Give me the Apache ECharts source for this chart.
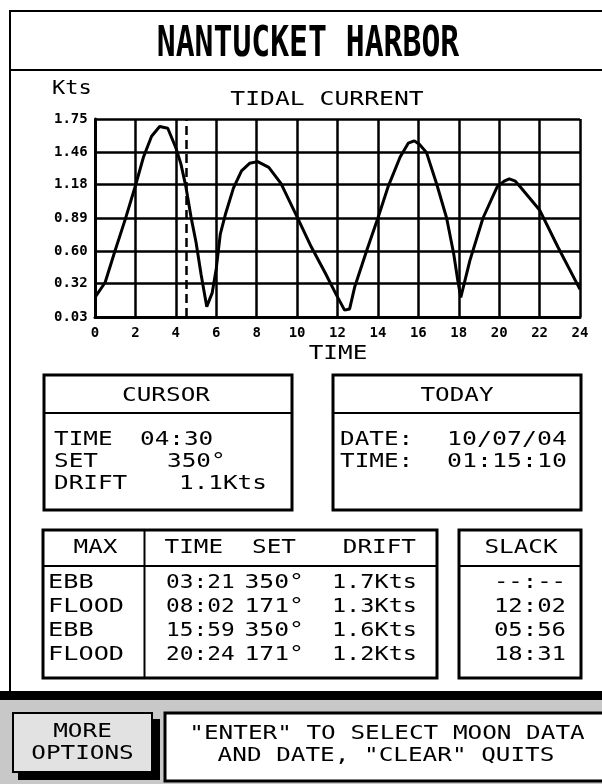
<!DOCTYPE html>
<html><head><meta charset="utf-8">
<script src="https://cdn.jsdelivr.net/npm/echarts@6/dist/echarts.min.js"></script>
<style>html,body{margin:0;padding:0;background:#fff}#chart{width:602px;height:784px}</style>
</head><body><div id="chart"></div>
<script>
// Tidal current speed (knots) over the day (hours)
const hours = [0, 0.5, 1.0, 1.5, 2.0, 2.4, 2.8, 3.2, 3.6, 4.0, 4.25, 4.5, 4.75, 5.0, 5.25, 5.53, 5.8, 6.0, 6.2, 6.45, 6.85, 7.25, 7.65, 8.05, 8.6, 9.2, 10.0, 10.7, 11.4, 11.95, 12.35, 12.6, 12.85, 13.45, 14.0, 14.5, 15.1, 15.5, 15.8, 16.05, 16.4, 16.9, 17.4, 17.75, 17.95, 18.1, 18.55, 19.2, 19.9, 20.25, 20.5, 20.8, 21.05, 22.0, 22.9, 24.0];
const knots = [0.20, 0.33, 0.61, 0.88, 1.17, 1.42, 1.60, 1.685, 1.67, 1.50, 1.36, 1.16, 0.90, 0.68, 0.40, 0.12, 0.24, 0.45, 0.75, 0.92, 1.15, 1.30, 1.365, 1.38, 1.33, 1.19, 0.90, 0.64, 0.41, 0.22, 0.09, 0.10, 0.29, 0.61, 0.89, 1.16, 1.42, 1.54, 1.56, 1.53, 1.46, 1.19, 0.89, 0.58, 0.35, 0.20, 0.52, 0.89, 1.16, 1.21, 1.23, 1.21, 1.16, 0.96, 0.64, 0.27];
const yTicks = [0.03, 0.32, 0.60, 0.89, 1.18, 1.46, 1.75];
const cursorHour = [4.5];

const cursorRows = [['TIME', '04:30'], ['SET', '350°'], ['DRIFT', '1.1Kts']];
const todayRows = [['DATE:', '10/07/04'], ['TIME:', '01:15:10']];
const maxHeads = ['MAX', 'TIME', 'SET', 'DRIFT'];
const maxKinds = ['EBB', 'FLOOD', 'EBB', 'FLOOD'];
const maxTimes = ['03:21', '08:02', '15:59', '20:24'];
const maxSets = ['350°', '171°', '350°', '171°'];
const maxDrifts = ['1.7Kts', '1.3Kts', '1.6Kts', '1.2Kts'];
const slackTimes = ['--:--', '12:02', '05:56', '18:31'];

const MONO = '"DejaVu Sans Mono", monospace';

function txt(x, y, s, o) {
  o = o || {};
  const align = o.align || 'left';
  return {
    type: 'text', x: x, y: y, scaleX: o.sx != null ? o.sx : 1.28, silent: true, z: 20,
    style: {
      text: s, x: 0, y: 0, fill: '#000',
      font: (o.bold ? 'bold ' : '') + (o.size || 19) + 'px ' + MONO,
      textAlign: align, align: align, textVerticalAlign: 'middle', verticalAlign: 'middle'
    }
  };
}
function rect(x, y, w, h, fill, stroke, lw, z) {
  return { type: 'rect', silent: true, z: z != null ? z : 5, shape: { x: x, y: y, width: w, height: h },
    style: { fill: fill || 'none', stroke: stroke || null, lineWidth: lw || 0 } };
}
function line(x1, y1, x2, y2, lw) {
  return { type: 'line', silent: true, z: 6, shape: { x1: x1, y1: y1, x2: x2, y2: y2 },
    style: { stroke: '#000', lineWidth: lw || 2 } };
}

const g = [];
// panel frame and title
g.push(rect(10, 11, 600, 685, 'none', '#000', 2));
g.push(line(10, 70, 602, 70, 2));
g.push(txt(308, 45, 'NANTUCKET HARBOR', { bold: true, size: 43, sx: 0.73, align: 'center' }));
g.push(txt(52, 89, 'Kts', { sx: 1.1, size: 20 }));
g.push(txt(327, 100, 'TIDAL CURRENT', { align: 'center', sx: 1.3 }));
g.push(txt(338, 354, 'TIME', { align: 'center' }));

// cursor box
g.push(rect(44, 375, 248, 135, 'none', '#000', 3));
g.push(line(44, 413, 292, 413, 2));
g.push(txt(166, 396, 'CURSOR', { align: 'center' }));
const cursorValX = [140, 167, 179];
cursorRows.forEach(function (r, i) {
  g.push(txt(54, 440 + i * 22, r[0]));
  g.push(txt(cursorValX[i], 440 + i * 22, r[1]));
});

// today box
g.push(rect(333, 375, 248, 135, 'none', '#000', 3));
g.push(line(333, 413, 581, 413, 2));
g.push(txt(457, 396, 'TODAY', { align: 'center' }));
todayRows.forEach(function (r, i) {
  g.push(txt(340, 440 + i * 22, r[0]));
  g.push(txt(447, 440 + i * 22, r[1], { sx: 1.31 }));
});

// max current table
g.push(rect(43, 530, 394, 148, 'none', '#000', 3));
g.push(line(144.5, 530, 144.5, 678, 2));
g.push(line(43, 566, 437, 566, 2));
g.push(txt(95.5, 548, maxHeads[0], { align: 'center' }));
g.push(txt(164.5, 548, maxHeads[1]));
g.push(txt(252, 548, maxHeads[2]));
g.push(txt(416, 548, maxHeads[3], { align: 'right' }));
maxKinds.forEach(function (k, i) {
  const y = 583 + i * 24;
  g.push(txt(48, y, k, { sx: 1.33 }));
  g.push(txt(166, y, maxTimes[i], { sx: 1.2 }));
  g.push(txt(244.5, y, maxSets[i], { sx: 1.3 }));
  g.push(txt(417, y, maxDrifts[i], { align: 'right', sx: 1.24 }));
});

// slack box
g.push(rect(459, 530, 122, 148, 'none', '#000', 3));
g.push(line(459, 566, 581, 566, 2));
g.push(txt(521, 548, 'SLACK', { align: 'center' }));
slackTimes.forEach(function (s, i) {
  g.push(txt(566, 583 + i * 24, s, { align: 'right', sx: 1.26 }));
});

// footer bar and buttons
g.push(rect(0, 691, 602, 9, '#000'));
g.push(rect(0, 700, 602, 84, '#c8c8c8'));
g.push(rect(18, 719, 142, 61, '#000'));
g.push(rect(13, 713, 139, 59, '#e2e2e2', '#000', 2));
g.push(txt(82.5, 732, 'MORE', { align: 'center' }));
g.push(txt(82.5, 754, 'OPTIONS', { align: 'center' }));
g.push(rect(165, 713, 445, 68, '#fff', '#000', 3));
g.push(txt(387, 734, '"ENTER" TO SELECT MOON DATA', { align: 'center' }));
g.push(txt(386, 756, 'AND DATE, "CLEAR" QUITS', { align: 'center' }));

const chart = echarts.init(document.getElementById('chart'), null, { renderer: 'canvas' });
chart.setOption({
  animation: false,
  backgroundColor: '#fff',
  graphic: { elements: g },
  grid: { left: 95, right: 22, top: 119, bottom: 467, containLabel: false },
  xAxis: {
    type: 'value', min: 0, max: 24, interval: 2,
    axisLine: { show: true, onZero: false, lineStyle: { color: '#000', width: 3 } },
    axisTick: { show: false },
    axisLabel: { color: '#000', fontFamily: MONO, fontWeight: 'bold', fontSize: 14, margin: 9 },
    splitLine: { show: true, lineStyle: { color: '#000', width: 2.5 } }
  },
  yAxis: {
    type: 'value', min: 0.03, max: 1.75,
    axisLine: { show: true, lineStyle: { color: '#000', width: 3 } },
    axisTick: { show: false, customValues: yTicks },
    axisLabel: {
      customValues: yTicks, formatter: function (v) { return v.toFixed(2); },
      color: '#000', fontFamily: MONO, fontWeight: 'bold', fontSize: 14,
      align: 'left', margin: 41, padding: [0, 0, 7, 0]
    },
    splitLine: { show: true, lineStyle: { color: '#000', width: 2.5 } }
  },
  series: [{
    type: 'line', z: 10,
    data: hours.map(function (h, i) { return [h, knots[i]]; }),
    showSymbol: false, symbol: 'none',
    lineStyle: { color: '#000', width: 3 },
    markLine: {
      symbol: 'none', silent: true, label: { show: false },
      lineStyle: { type: [9, 5], color: '#000', width: 2.5 },
      data: cursorHour.map(function (h) { return { xAxis: h }; })
    }
  }]
});
</script>
</body></html>
